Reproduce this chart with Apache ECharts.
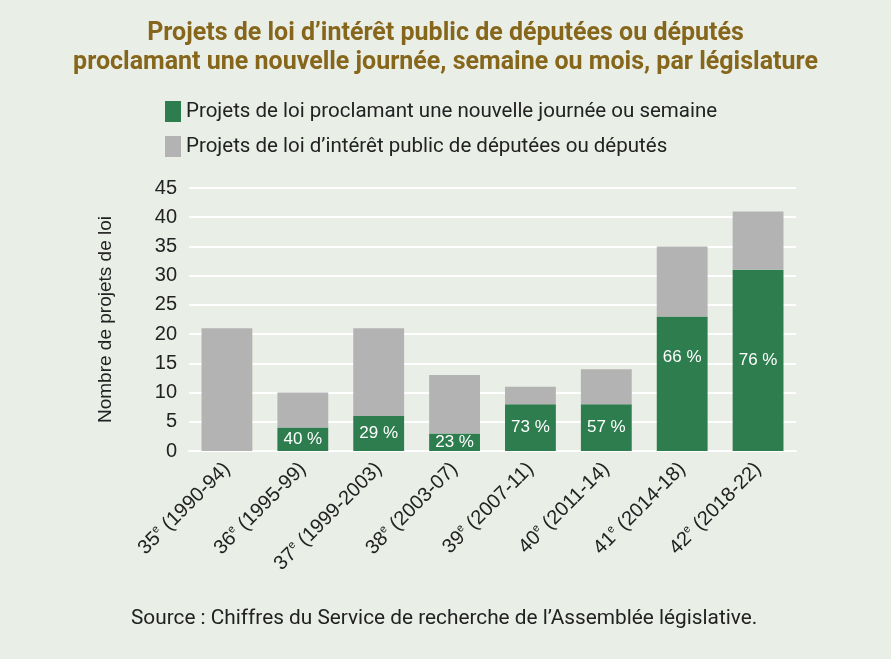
<!DOCTYPE html>
<html><head><meta charset="utf-8">
<script src="https://cdn.jsdelivr.net/npm/echarts@6/dist/echarts.min.js"></script>
<style>html,body{margin:0;padding:0;background:#e9eee7;}#c{width:891px;height:659px;}</style>
</head><body><div id="c"></div>
<script>
var categories = ["35ᵉ (1990-94)","36ᵉ (1995-99)","37ᵉ (1999-2003)","38ᵉ (2003-07)","39ᵉ (2007-11)","40ᵉ (2011-14)","41ᵉ (2014-18)","42ᵉ (2018-22)"];
var totalBills = [21, 10, 21, 13, 11, 14, 35, 41];
var dayWeekBills = [0, 4, 6, 3, 8, 8, 23, 31];
var pctLabels = ["", "40 %", "29 %", "23 %", "73 %", "57 %", "66 %", "76 %"];
var yTicks = [0, 5, 10, 15, 20, 25, 30, 35, 40, 45];

var otherBills = totalBills.map(function(t, i){ return t - dayWeekBills[i]; });
var txtFont = "'Roboto','Liberation Sans',sans-serif";
var arial = "'Liberation Sans',Arial,sans-serif";
var chart = echarts.init(document.getElementById('c'));
chart.setOption({
  backgroundColor: '#e9eee7',
  animation: false,
  title: {
    text: "Projets de loi d’intérêt public de députées ou députés\nproclamant une nouvelle journée, semaine ou mois, par législature",
    left: 'center', top: 14,
    textStyle: {color: '#86661b', fontFamily: txtFont, fontSize: 25, fontWeight: 'bold', lineHeight: 29}
  },
  legend: {
    orient: 'vertical', left: 160, top: 96, itemWidth: 16, itemHeight: 21, itemGap: 14,
    icon: 'rect',
    textStyle: {fontFamily: txtFont, fontSize: 20.5, color: '#222'},
    data: ['Projets de loi proclamant une nouvelle journée ou semaine', 'Projets de loi d’intérêt public de députées ou députés']
  },
  grid: {left: 189, right: 95, top: 188, bottom: 208},
  xAxis: {
    type: 'category', data: categories,
    axisLine: {lineStyle: {color: '#ffffff', width: 2}}, axisTick: {show: false},
    axisLabel: {rotate: 45, fontFamily: arial, fontSize: 20, color: '#222', margin: 15, interval: 0,
      formatter: function(v){ return v.replace('ᵉ', '{sup|e}'); },
      rich: {sup: {fontFamily: arial, fontSize: 11, color: '#222', verticalAlign: 'top', lineHeight: 22}}
    }
  },
  yAxis: {
    type: 'value', min: yTicks[0], max: yTicks[yTicks.length-1], interval: 5,
    name: 'Nombre de projets de loi', nameLocation: 'middle', nameGap: 74, nameRotate: 90,
    nameTextStyle: {fontFamily: arial, fontSize: 19, color: '#222'},
    axisLabel: {fontFamily: arial, fontSize: 20, color: '#222', margin: 12},
    splitLine: {lineStyle: {color: '#ffffff', width: 2}},
    axisLine: {show: false}, axisTick: {show: false}
  },
  series: [
    {
      name: 'Projets de loi proclamant une nouvelle journée ou semaine',
      type: 'bar', stack: 'a', barWidth: '67%',
      itemStyle: {color: '#2e7d4e'},
      data: dayWeekBills.map(function(v, i){
        var o = {value: v};
        if (i === 6) o.label = {offset: [0, -26]};
        return o;
      }),
      label: {show: true, position: 'inside', color: '#fff', fontFamily: arial, fontSize: 17,
        formatter: function(p){ return pctLabels[p.dataIndex]; }}
    },
    {
      name: 'Projets de loi d’intérêt public de députées ou députés',
      type: 'bar', stack: 'a', barWidth: '67%',
      itemStyle: {color: '#b3b3b3'},
      data: otherBills
    }
  ],
  graphic: [{
    type: 'text', left: 131, top: 608,
    style: {text: 'Source : Chiffres du Service de recherche de l’Assemblée législative.', fontFamily: txtFont, fontSize: 20.8, fill: '#222'}
  }]
});
</script></body></html>
